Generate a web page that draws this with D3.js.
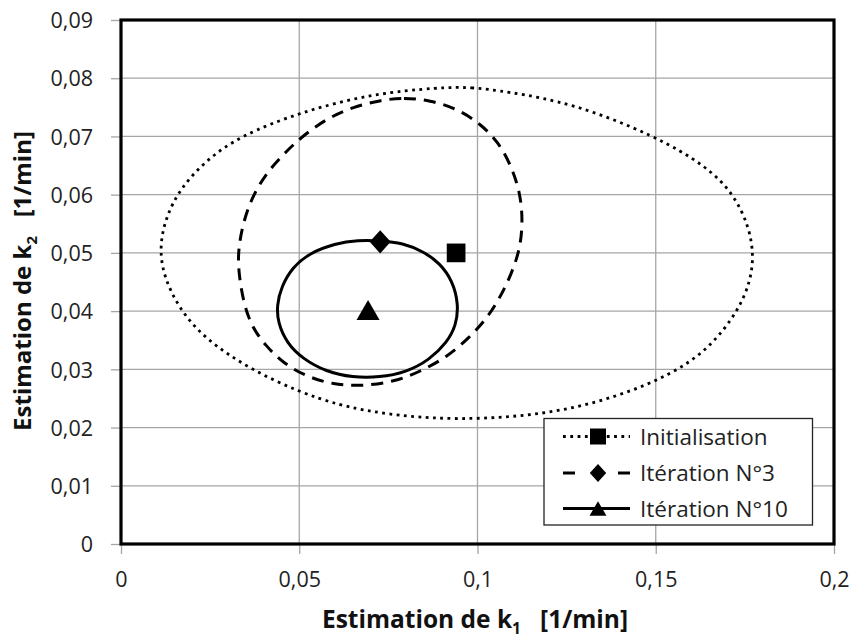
<!DOCTYPE html>
<html><head><meta charset="utf-8">
<script src="https://cdn.jsdelivr.net/npm/d3@7"></script>
<style>
html,body{margin:0;padding:0;background:#fff;}
svg text{font-family:"Open Sans","Liberation Sans",sans-serif;}
</style></head>
<body><svg id="c" width="854" height="639"></svg>
<script>
// ---- data ----
const seriesNames = ["Initialisation", "Itération N°3", "Itération N°10"];
const estimates = [[0.0940, 0.0500], [0.0727, 0.0519], [0.0693, 0.0402]];
const ellipseInit = [[0.0895,0.0784],[0.098,0.0785],[0.1082,0.0777],[0.1268,0.0757],[0.1498,0.0701],[0.1640,0.0650],[0.1718,0.0602],[0.1762,0.0545],[0.1775,0.0495],[0.1765,0.0450],[0.1732,0.0401],[0.1650,0.0335],[0.1540,0.0290],[0.1400,0.0255],[0.1251,0.0230],[0.1100,0.0218],[0.0942,0.0214],[0.0802,0.0219],[0.0708,0.0227],[0.0615,0.0238],[0.0500,0.0261],[0.0363,0.0300],[0.0240,0.0350],[0.0166,0.0401],[0.0119,0.0460],[0.0108,0.0510],[0.0125,0.0560],[0.0165,0.0610],[0.0240,0.0660],[0.0335,0.0701],[0.0503,0.0742],[0.0708,0.0774]];
const ellipseIter3 = [[0.0727,0.0762],[0.0792,0.0767],[0.0867,0.0762],[0.0942,0.0748],[0.1008,0.0722],[0.1059,0.0690],[0.1096,0.0648],[0.1120,0.0602],[0.1127,0.0556],[0.1120,0.0508],[0.1096,0.0465],[0.1064,0.0424],[0.1027,0.0388],[0.0975,0.0353],[0.0914,0.0321],[0.0839,0.0296],[0.0764,0.0278],[0.0671,0.0271],[0.0596,0.0274],[0.0522,0.0287],[0.0456,0.0310],[0.0405,0.0341],[0.0367,0.0373],[0.0344,0.0413],[0.0330,0.0465],[0.0328,0.0505],[0.0344,0.0556],[0.0372,0.0602],[0.0414,0.0642],[0.0466,0.0676],[0.0512,0.0702],[0.0578,0.0731],[0.0652,0.0751]];
const ellipseIter10 = [[0.0727,0.0521],[0.0790,0.0517],[0.0850,0.0502],[0.0895,0.0482],[0.0930,0.0452],[0.0947,0.0412],[0.0940,0.0375],[0.0914,0.0346],[0.0865,0.0316],[0.0800,0.0295],[0.0725,0.0286],[0.0650,0.0286],[0.0575,0.0296],[0.0510,0.0318],[0.0465,0.0345],[0.0440,0.0380],[0.0437,0.0410],[0.0450,0.0442],[0.0480,0.0475],[0.0530,0.0500],[0.0600,0.0516],[0.0665,0.0522]];
const xTicks = [0, 0.05, 0.1, 0.15, 0.2];
const yTicks = [0, 0.01, 0.02, 0.03, 0.04, 0.05, 0.06, 0.07, 0.08, 0.09];
const xTickLabels = ["0", "0,05", "0,1", "0,15", "0,2"];
const yTickLabels = ["0", "0,01", "0,02", "0,03", "0,04", "0,05", "0,06", "0,07", "0,08", "0,09"];

// ---- layout ----
const L = 121, R = 834, T = 20, B = 544;
const svg = d3.select("#c");
const x = d3.scaleLinear().domain([0, 0.2]).range([L, R]);
const y = d3.scaleLinear().domain([0, 0.09]).range([B, T]);
const grid = "#a6a6a6";

// gridlines
svg.append("g").selectAll("line").data(xTicks.slice(1, -1)).join("line")
  .attr("x1", d => x(d)).attr("x2", d => x(d)).attr("y1", T).attr("y2", B)
  .attr("stroke", grid).attr("stroke-width", 1.3);
svg.append("g").selectAll("line").data(yTicks.slice(1, -1)).join("line")
  .attr("x1", L).attr("x2", R).attr("y1", d => y(d)).attr("y2", d => y(d))
  .attr("stroke", grid).attr("stroke-width", 1.3);

// axes
const xAxis = d3.axisBottom(x).tickValues(xTicks).tickSize(10).tickPadding(18)
  .tickFormat((d, i) => xTickLabels[i]);
const gx = svg.append("g").attr("transform", `translate(0,${B})`).call(xAxis);
gx.select(".domain").remove();
gx.selectAll(".tick line").attr("stroke", grid).attr("stroke-width", 1.3);
gx.selectAll(".tick text").attr("fill", "#222").style("font-size", "21.5px");

const yAxis = d3.axisLeft(y).tickValues(yTicks).tickSize(10).tickPadding(18)
  .tickFormat((d, i) => yTickLabels[i]);
const gy = svg.append("g").attr("transform", `translate(${L},0)`).call(yAxis);
gy.select(".domain").remove();
gy.selectAll(".tick line").attr("stroke", grid).attr("stroke-width", 1.3);
gy.selectAll(".tick text").attr("fill", "#222").style("font-size", "21.5px").attr("dy", "0.36em");

// ellipses
const line = d3.line().x(d => x(d[0])).y(d => y(d[1])).curve(d3.curveBasisClosed);
const styles = [
  {dash: "2.8,4.5", w: 2.8},
  {dash: "12,8", w: 3},
  {dash: null, w: 3}
];
[ellipseInit, ellipseIter3, ellipseIter10].forEach((pts, i) => {
  svg.append("path").datum(pts).attr("d", line)
    .attr("fill", "none").attr("stroke", "#000")
    .attr("stroke-width", styles[i].w)
    .attr("stroke-dasharray", styles[i].dash);
});

// markers
const wideDiamond = {draw(ctx, size) {
  const r = Math.sqrt(size) / 2;
  ctx.moveTo(0, -r * 1.1); ctx.lineTo(r, 0); ctx.lineTo(0, r * 1.1); ctx.lineTo(-r, 0); ctx.closePath();
}};
// triangle centred on its bounding box (as in the spreadsheet marker)
const boxTriangle = {draw(ctx, size) {
  const s = Math.sqrt(size * 4 / Math.sqrt(3));
  const h = s * Math.sqrt(3) / 2;
  ctx.moveTo(0, -h / 2); ctx.lineTo(s / 2, h / 2); ctx.lineTo(-s / 2, h / 2); ctx.closePath();
}};
const sym = [d3.symbolSquare, wideDiamond, boxTriangle];
const symSize = [350, 441, 230];
const legSize = [256, 270, 125];
svg.append("g").selectAll("path").data(estimates).join("path")
  .attr("transform", d => `translate(${x(d[0])},${y(d[1])})`)
  .attr("d", (d, i) => d3.symbol().type(sym[i]).size(symSize[i])())
  .attr("fill", "#000");

// frame
svg.append("rect").attr("x", L).attr("y", T).attr("width", R - L).attr("height", B - T)
  .attr("fill", "none").attr("stroke", "#000").attr("stroke-width", 3.2);

// legend
const lg = svg.append("g");
lg.append("rect").attr("x", 544).attr("y", 418.5).attr("width", 268.5).attr("height", 106.5)
  .attr("fill", "#fff").attr("stroke", "#222").attr("stroke-width", 1.3);
const rowsY = [436.5, 473, 508.5];
const legDash = ["2.8,4.5", "12,43", null];
seriesNames.forEach((name, i) => {
  lg.append("line").attr("x1", 563).attr("x2", 630).attr("y1", rowsY[i]).attr("y2", rowsY[i])
    .attr("stroke", "#000").attr("stroke-width", styles[i].w)
    .attr("stroke-dasharray", legDash[i]);
  lg.append("path").attr("transform", `translate(598,${rowsY[i]})`)
    .attr("d", d3.symbol().type(sym[i]).size(legSize[i])()).attr("fill", "#000");
  lg.append("text").attr("x", 640).attr("y", rowsY[i]).attr("dy", "0.36em")
    .style("font-size", "22.5px").attr("fill", "#222").text(name);
});

// axis titles
const xt = svg.append("text").attr("x", 475).attr("y", 628).attr("text-anchor", "middle")
  .style("font-size", "24.5px").style("font-weight", "bold").attr("fill", "#111");
xt.append("tspan").text("Estimation de k");
xt.append("tspan").text("1").style("font-size", "15.5px").attr("dy", 6);
xt.append("tspan").text("\u00a0\u00a0\u00a0[1/min]").attr("dy", -6);

const yt = svg.append("text").attr("transform", "translate(31,281) rotate(-90)").attr("text-anchor", "middle")
  .style("font-size", "24px").style("font-weight", "bold").attr("fill", "#111");
yt.append("tspan").text("Estimation de k");
yt.append("tspan").text("2").style("font-size", "15px").attr("dy", 6);
yt.append("tspan").text("\u00a0\u00a0\u00a0[1/min]").attr("dy", -6);
</script></body></html>
